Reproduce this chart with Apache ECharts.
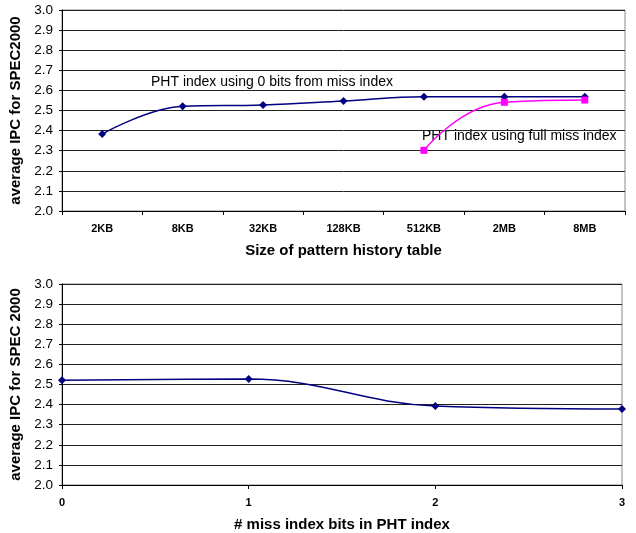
<!DOCTYPE html>
<html><head><meta charset="utf-8">
<script src="https://cdn.jsdelivr.net/npm/echarts@6/dist/echarts.min.js"></script>
<style>html,body{margin:0;padding:0;background:#fff;overflow:hidden}#c{width:636px;height:533px}</style>
</head><body><div id="c"></div>
<script>
const sizeCategories = ['2KB','8KB','32KB','128KB','512KB','2MB','8MB'];
const ipcZeroBits = [2.383, 2.521, 2.527, 2.547, 2.568, 2.568, 2.568];
const ipcFullMiss = [null, null, null, null, 2.302, 2.541, 2.552];
const missBits = [0, 1, 2, 3];
const ipcByMissBits = [2.521, 2.527, 2.393, 2.378];
const label0 = 'PHT index using 0 bits from miss index';
const label1 = 'PHT index using full miss index';

const font = 'Liberation Sans, Arial, sans-serif';
const chart = echarts.init(document.getElementById('c'));
const yAxisBase = {
  type: 'value', min: 2.0, max: 3.0, interval: 0.1,
  axisLine: {show: true, lineStyle: {color: '#000'}},
  axisTick: {show: true, length: 3, lineStyle: {color: '#000'}},
  axisLabel: {color: '#000', fontSize: 13.5, fontFamily: font, margin: 9, formatter: v => v.toFixed(1)},
  splitLine: {show: true, lineStyle: {color: '#222', width: 1}},
  nameLocation: 'middle', nameGap: 35,
  nameTextStyle: {color: '#000', fontSize: 15, fontWeight: 'bold', fontFamily: font}
};
const xName = {color: '#000', fontSize: 15, fontWeight: 'bold', fontFamily: font};
chart.setOption({
  animation: false,
  grid: [
    {left: 62, top: 10, width: 563, height: 201, show: true, borderColor: '#888', borderWidth: 1},
    {left: 62, top: 284, width: 560, height: 201, show: true, borderColor: '#888', borderWidth: 1}
  ],
  xAxis: [
    {type: 'category', gridIndex: 0, data: sizeCategories, boundaryGap: true,
     axisLine: {lineStyle: {color: '#000'}},
     axisTick: {show: true, length: 4, lineStyle: {color: '#000'}},
     axisLabel: {color: '#000', fontSize: 11, fontWeight: 'bold', fontFamily: font, margin: 12},
     name: 'Size of pattern history table', nameLocation: 'middle', nameGap: 32,
     nameTextStyle: xName},
    {type: 'value', gridIndex: 1, min: 0, max: 3, interval: 1,
     axisLine: {show: true, lineStyle: {color: '#000'}},
     axisTick: {show: true, length: 4, lineStyle: {color: '#000'}},
     splitLine: {show: false},
     axisLabel: {color: '#000', fontSize: 11, fontWeight: 'bold', fontFamily: font, margin: 12},
     name: '# miss index bits in PHT index', nameLocation: 'middle', nameGap: 32,
     nameTextStyle: xName}
  ],
  yAxis: [
    Object.assign({}, yAxisBase, {gridIndex: 0, name: 'average IPC for SPEC2000'}),
    Object.assign({}, yAxisBase, {gridIndex: 1, name: 'average IPC for SPEC 2000'})
  ],
  series: [
    {type: 'line', xAxisIndex: 0, yAxisIndex: 0, data: ipcZeroBits, smooth: 0.4,
     symbol: 'diamond', symbolSize: 8, itemStyle: {color: '#000080'},
     lineStyle: {color: '#000080', width: 1.5}},
    {type: 'line', xAxisIndex: 0, yAxisIndex: 0, data: ipcFullMiss, smooth: 0.5,
     symbol: 'rect', symbolSize: 7, itemStyle: {color: '#FF00FF'},
     lineStyle: {color: '#FF00FF', width: 1.5}},
    {type: 'line', xAxisIndex: 1, yAxisIndex: 1, data: missBits.map((b, i) => [b, ipcByMissBits[i]]), smooth: 0.4,
     symbol: 'diamond', symbolSize: 8, itemStyle: {color: '#000080'},
     lineStyle: {color: '#000080', width: 1.5}}
  ],
  graphic: [
    {type: 'text', left: 151, top: 75, style: {text: label0, fontSize: 14, fontFamily: font, fill: '#000'}},
    {type: 'text', left: 422, top: 129, style: {text: label1, fontSize: 14, fontFamily: font, fill: '#000'}}
  ]
});
</script></body></html>
